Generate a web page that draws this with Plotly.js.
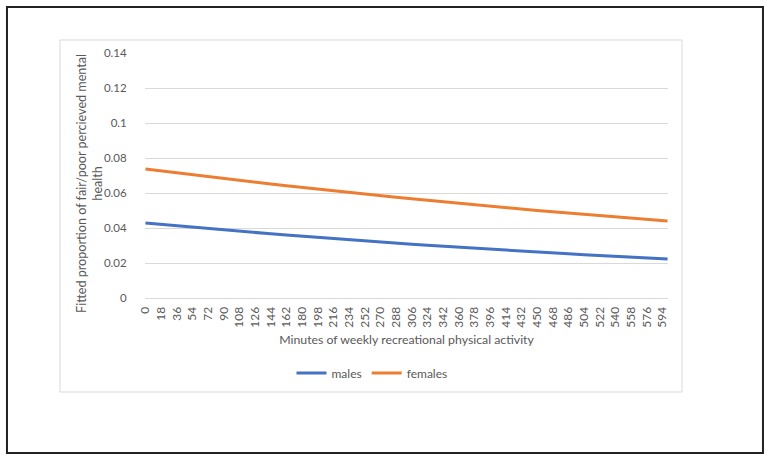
<!DOCTYPE html>
<html>
<head>
<meta charset="utf-8">
<script src="https://cdn.plot.ly/plotly-3.0.1.min.js"></script>
<style>html,body{margin:0;padding:0;background:#fff;}#chart{width:771px;height:462px;}</style>
</head>
<body>
<div id="chart"></div>
<script>
const minutes = [0,18,36,54,72,90,108,126,144,162,180,198,216,234,252,270,288,306,324,342,360,378,396,414,432,450,468,486,504,522,540,558,576,594,600];
const males = [0.0429,0.04207,0.04125,0.04045,0.03966,0.03889,0.03813,0.03739,0.03667,0.03595,0.03525,0.03457,0.03390,0.03324,0.03259,0.03196,0.03134,0.03073,0.03013,0.02955,0.02897,0.02841,0.02786,0.02732,0.02678,0.02626,0.02575,0.02525,0.02476,0.02428,0.02381,0.02334,0.02289,0.02245,0.0223];
const females = [0.0737,0.07257,0.07145,0.07036,0.06928,0.06821,0.06717,0.06613,0.06512,0.06412,0.06313,0.06217,0.06121,0.06027,0.05935,0.05843,0.05754,0.05665,0.05578,0.05493,0.05408,0.05325,0.05243,0.05163,0.05084,0.05006,0.04929,0.04853,0.04779,0.04705,0.04633,0.04562,0.04492,0.04423,0.0440];
const xTickVals = [0,18,36,54,72,90,108,126,144,162,180,198,216,234,252,270,288,306,324,342,360,378,396,414,432,450,468,486,504,522,540,558,576,594];
const xTickText = xTickVals.map(String);
const yTickVals = [0,0.02,0.04,0.06,0.08,0.1,0.12,0.14];
const yTickText = ["0","0.02","0.04","0.06","0.08","0.1","0.12","0.14"];
const xTitle = 'Minutes of weekly recreational physical activity';
const yTitle = 'Fitted proportion of fair/poor percieved mental<br>health';

const font = "Lato, 'Open Sans', sans-serif";
const grey = '#595959';

const traces = [
  {x: minutes, y: males, name: 'males', type: 'scatter', mode: 'lines', line: {color: '#4472C4', width: 3}},
  {x: minutes, y: females, name: 'females', type: 'scatter', mode: 'lines', line: {color: '#ED7D31', width: 3}}
];

const layout = {
  width: 771, height: 462,
  margin: {l: 145, r: 103, t: 53, b: 164},
  paper_bgcolor: '#fff', plot_bgcolor: '#fff',
  font: {family: font, color: grey, size: 12},
  showlegend: true,
  legend: {orientation: 'h', x: 0.434, xanchor: 'center', y: -0.306, yanchor: 'middle',
           font: {size: 12, color: grey}, tracegroupgap: 0},
  xaxis: {
    range: [-0.5, 600.5], tickmode: 'array', tickvals: xTickVals, ticktext: xTickText,
    tickangle: -90, showgrid: false, zeroline: false, showline: false,
    ticks: 'outside', ticklen: 3, tickcolor: 'rgba(0,0,0,0)',
    tickfont: {size: 12, color: grey},
    title: {text: xTitle, font: {size: 12.3, color: grey}, standoff: 8}
  },
  yaxis: {
    range: [0, 0.14], tickmode: 'array', tickvals: yTickVals, ticktext: yTickText,
    showgrid: true, gridcolor: '#d9d9d9', gridwidth: 1, zeroline: true, zerolinecolor: '#d9d9d9', zerolinewidth: 1,
    showline: false, ticks: 'outside', ticklen: 15, tickcolor: 'rgba(0,0,0,0)',
    tickfont: {size: 11.5, color: grey}
  },
  annotations: [
    {text: yTitle, xref: 'paper', yref: 'paper', x: -0.1065, y: 0.467, xanchor: 'center', yanchor: 'middle',
     textangle: -90, showarrow: false, font: {size: 12.6, color: grey}, align: 'center'}
  ],
  shapes: [
    {type: 'rect', xref: 'paper', yref: 'paper', x0: -0.1625, x1: 1.0268, y0: -0.3837, y1: 1.0531,
     line: {color: '#d9d9d9', width: 1}, fillcolor: 'rgba(0,0,0,0)', layer: 'below'},
    {type: 'rect', xref: 'paper', yref: 'paper', x0: -0.2639, x1: 1.1816, y0: -0.6327, y1: 1.1878,
     line: {color: '#222', width: 2}, fillcolor: 'rgba(0,0,0,0)', layer: 'below'}
  ]
};

Plotly.newPlot('chart', traces, layout, {displayModeBar: false, staticPlot: true});
</script>
</body>
</html>
